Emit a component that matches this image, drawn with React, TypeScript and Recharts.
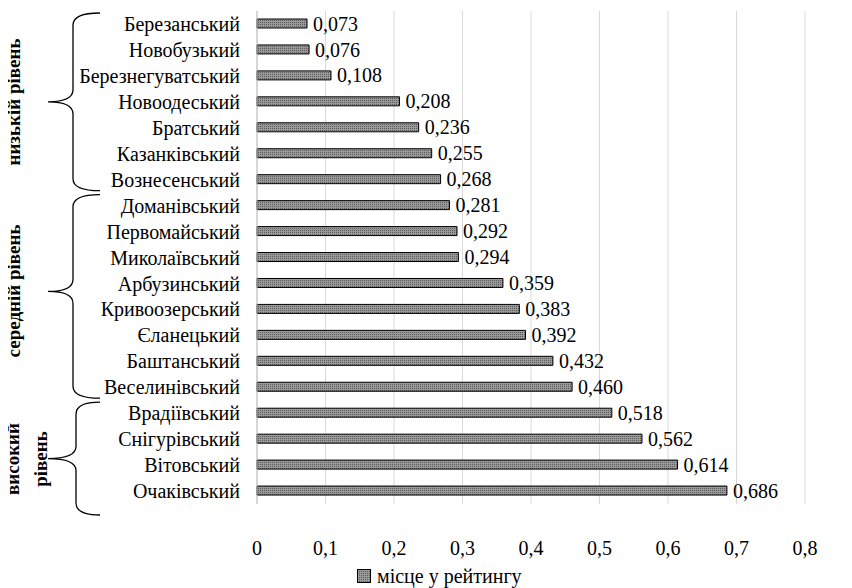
import { BarChart, Bar, XAxis, YAxis, CartesianGrid, LabelList } from "recharts"

const districts = [
  "Березанський", "Новобузький", "Березнегуватський", "Новоодеський", "Братський", "Казанківський",
  "Вознесенський", "Доманівський", "Первомайський", "Миколаївський", "Арбузинський", "Кривоозерський",
  "Єланецький", "Баштанський", "Веселинівський", "Врадіївський", "Снігурівський", "Вітовський", "Очаківський",
]
const ratings = [
  0.073, 0.076, 0.108, 0.208, 0.236, 0.255, 0.268, 0.281, 0.292, 0.294,
  0.359, 0.383, 0.392, 0.432, 0.46, 0.518, 0.562, 0.614, 0.686,
]
const xTicks = [0, 0.1, 0.2, 0.3, 0.4, 0.5, 0.6, 0.7, 0.8]
const groups = [
  { lines: ["низькій рівень"], from: 0, to: 6 },
  { lines: ["середній рівень"], from: 7, to: 14 },
  { lines: ["високий", "рівень"], from: 15, to: 18 },
]
const seriesName = "місце у рейтингу"

const W = 852
const H = 588
const TOP = 11
const PLOT_BOTTOM = 504
const ROW_H = (PLOT_BOTTOM - TOP) / districts.length
const FONT = "Liberation Serif"
const FS = 20

const data = districts.map((name, i) => ({ name, value: ratings[i] }))
const comma = (v: number, digits: number) => v.toFixed(digits).replace(".", ",")

function groupGeom(gi: number) {
  const g = groups[gi]
  const last = gi === groups.length - 1
  const y1 = TOP + g.from * ROW_H + 2
  const y2 = TOP + (g.to + 1) * ROW_H + (last ? 11 : -2)
  const ym = (y1 + y2) / 2 - (gi === 1 ? 5 : 0)
  const xv = last ? 76 : 73
  return { y1, y2, ym, xv }
}

function bracePath(y1: number, y2: number, ym: number, xv: number, xTip: number, xEnd: number) {
  const r = 12
  return [
    `M ${xEnd} ${y1}`,
    `Q ${xv} ${y1} ${xv} ${y1 + r}`,
    `L ${xv} ${ym - r}`,
    `Q ${xv} ${ym} ${xTip} ${ym}`,
    `Q ${xv} ${ym} ${xv} ${ym + r}`,
    `L ${xv} ${y2 - r}`,
    `Q ${xv} ${y2} ${xEnd} ${y2}`,
  ].join(" ")
}

function GroupLabels() {
  return (
    <>
      {groups.map((g, gi) => {
        const { ym } = groupGeom(gi)
        return g.lines.map((line, li) => {
          const cx = g.lines.length === 1 ? 13 : 12 + li * 28
          return (
            <div
              key={`${gi}-${li}`}
              style={{
                position: "absolute",
                left: cx,
                top: ym,
                transform: "translate(-50%, -50%) rotate(-90deg)",
                whiteSpace: "nowrap",
                fontFamily: FONT,
                fontWeight: "bold",
                fontSize: 19,
                lineHeight: 1,
                color: "#000",
              }}
            >
              {line}
            </div>
          )
        })
      })}
    </>
  )
}

function Braces() {
  return (
    <svg width={W} height={H} style={{ position: "absolute", left: 0, top: 0, pointerEvents: "none" }}>
      {groups.map((_, gi) => {
        const { y1, y2, ym, xv } = groupGeom(gi)
        return <path key={gi} d={bracePath(y1, y2, ym, xv, 48, 100)} fill="none" stroke="#000" strokeWidth={1.3} />
      })}
    </svg>
  )
}

function LegendBox() {
  return (
    <div style={{ position: "absolute", left: 357, top: 564, height: 24, display: "flex", alignItems: "center" }}>
      <svg width={14} height={14} style={{ marginRight: 6 }}>
        <rect x={0.5} y={0.5} width={13} height={13} fill="url(#dots)" stroke="#000" />
      </svg>
      <div style={{ fontFamily: FONT, fontSize: FS, color: "#000" }}>{seriesName}</div>
    </div>
  )
}

export default function App() {
  return (
    <div style={{ position: "relative", marginLeft: -8, marginTop: -8, width: W, height: H, background: "#fff" }}>
      <LegendBox />
      <GroupLabels />
      <svg width={0} height={0} style={{ position: "absolute" }}>
        <defs>
          <pattern id="dots" width={2} height={2} patternUnits="userSpaceOnUse">
            <rect width={2} height={2} fill="#999" />
            <rect width={1} height={1} fill="#5c5c5c" />
          </pattern>
        </defs>
      </svg>
      <BarChart
        width={W}
        height={H}
        data={data}
        layout="vertical"
        margin={{ top: TOP, right: 47, left: 0, bottom: 0 }}
      >
        <CartesianGrid horizontal={false} stroke="#d9d9d9" />
        <XAxis
          type="number"
          domain={[0, 0.8]}
          ticks={xTicks}
          tickFormatter={(v: number) => (v === 0 ? "0" : comma(v, 1))}
          axisLine={false}
          tickLine={false}
          tickMargin={31}
          height={84}
          tick={{ fontSize: FS, fill: "#000", fontFamily: FONT }}
        />
        <YAxis
          type="category"
          dataKey="name"
          width={257}
          interval={0}
          axisLine={{ stroke: "#bfbfbf" }}
          tickLine={false}
          tickSize={15}
          tick={{ fontSize: FS, fill: "#000", fontFamily: FONT }}
        />
        <Bar dataKey="value" name={seriesName} barSize={9} fill="url(#dots)" stroke="#000" strokeWidth={1} isAnimationActive={false}>
          <LabelList
            dataKey="value"
            position="right"
            offset={6}
            formatter={(v: number) => comma(v, 3)}
            fontFamily={FONT}
            fontSize={FS}
            fill="#000"
          />
        </Bar>
      </BarChart>
      <Braces />
    </div>
  )
}
